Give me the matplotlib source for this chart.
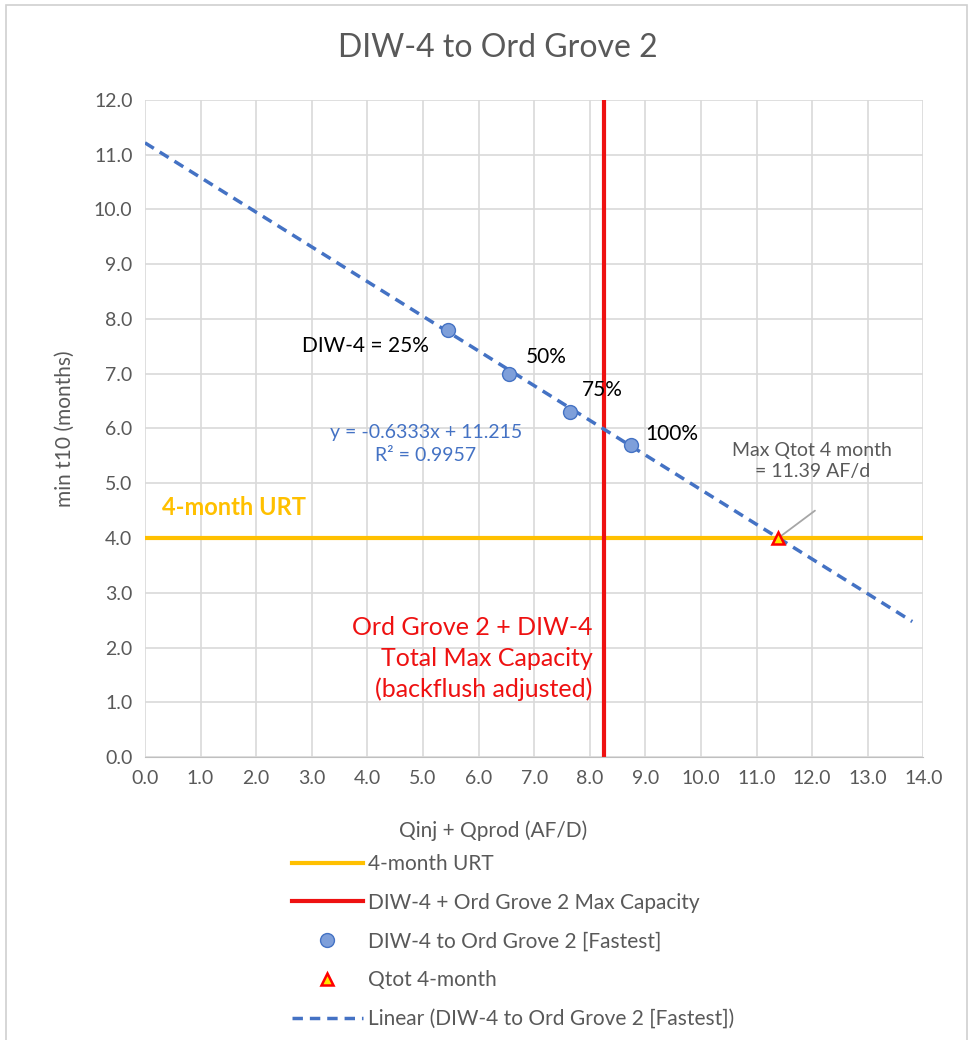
import matplotlib
matplotlib.use("Agg")
import matplotlib.pyplot as plt
from matplotlib.lines import Line2D
from matplotlib.patches import Rectangle
import numpy as np

plt.rcParams['font.family'] = ['Lato', 'DejaVu Sans']

# Data
q_total = [5.45, 6.55, 7.65, 8.75]        # Qinj + Qprod (AF/D)
t10_min = [7.8, 7.0, 6.3, 5.7]            # min t10 (months)
point_labels = ["DIW-4 = 25%", "50%", "75%", "100%"]
fit_slope = -0.6333
fit_intercept = 11.215
fit_r2 = 0.9957
fit_x_range = [0.0, 13.8]
urt_months = 4.0
max_capacity = 8.25
qtot_4month = 11.39

x_ticks = np.arange(0, 15, 1)
y_ticks = np.arange(0, 13, 1)

GRAY = "#595959"
BLUE = "#4472C4"
ORANGE = "#FFC000"
RED = "#EE1111"

fig = plt.figure(figsize=(9.73, 10.4), dpi=100)
fig.patches.append(Rectangle((0.006, -0.01), 0.988, 1.005, transform=fig.transFigure,
                             fill=False, edgecolor="#D0D0D0", linewidth=1.2))

ax = fig.add_axes([0.149, 0.272, 0.800, 0.632])
ax.set_xlim(0, 14)
ax.set_ylim(0, 12)
ax.set_xticks(x_ticks)
ax.set_yticks(y_ticks)
ax.set_xticklabels([f"{v:.1f}" for v in x_ticks])
ax.set_yticklabels([f"{v:.1f}" for v in y_ticks])
ax.grid(True, color="#D9D9D9", linewidth=1.2)
ax.set_axisbelow(True)
for s in ["top", "right", "left"]:
    ax.spines[s].set_visible(False)
ax.spines["bottom"].set_color("#BFBFBF")
ax.tick_params(length=0, colors=GRAY, labelsize=14, pad=9)

# Reference lines
ax.axhline(urt_months, color=ORANGE, linewidth=3, zorder=2)
ax.axvline(max_capacity, color=RED, linewidth=3, zorder=2)

# Linear trendline
fx = np.array(fit_x_range)
ax.plot(fx, fit_slope * fx + fit_intercept, linestyle=(0, (3, 2)), color=BLUE,
        linewidth=2.5, zorder=3)

# Scatter points
ax.plot(q_total, t10_min, "o", markersize=10, markerfacecolor="#7E9FDA",
        markeredgecolor=BLUE, markeredgewidth=1, zorder=4)

# 4-month point
ax.plot([qtot_4month], [urt_months], "^", markersize=9, markerfacecolor="#FFE600",
        markeredgecolor="#FF0000", markeredgewidth=1.8, zorder=5)

# Point labels
label_offsets = [(-0.35, -0.3, "right"), (0.3, 0.3, "left"), (0.2, 0.4, "left"), (0.25, 0.2, "left")]
for x, y, lab, (dx, dy, ha) in zip(q_total, t10_min, point_labels, label_offsets):
    ax.text(x + dx, y + dy, lab, ha=ha, va="center", fontsize=15, color="black")

# Trendline equation
ax.text(5.05, 5.72, f"y = {fit_slope}x + {fit_intercept}\nR² = {fit_r2}",
        ha="center", va="center", color=BLUE, fontsize=14, linespacing=1.4)

ax.text(0.3, 4.55, "4-month URT", color=ORANGE, fontsize=17, fontweight="bold",
        ha="left", va="center")

ax.text(8.05, 1.8, "Ord Grove 2 + DIW-4\nTotal Max Capacity\n(backflush adjusted)",
        color=RED, fontsize=18, ha="right", va="center", linespacing=1.4)

ax.text(12.0, 5.41, f"Max Qtot 4 month\n= {qtot_4month} AF/d", ha="center",
        va="center", fontsize=14, color=GRAY, linespacing=1.3)
ax.annotate("", xy=(qtot_4month, urt_months), xytext=(12.05, 4.5),
            arrowprops=dict(arrowstyle="-", color="#A6A6A6", linewidth=1.3,
                            shrinkA=0, shrinkB=0))

ax.set_xlabel("Qinj + Qprod (AF/D)", fontsize=15, color=GRAY)
ax.xaxis.set_label_coords(0.447, -0.097)
ax.set_ylabel("min t10 (months)", fontsize=15, color=GRAY, labelpad=14)
fig.text(0.512, 0.954, "DIW-4 to Ord Grove 2", ha="center", va="center",
         fontsize=23, color=GRAY)

# Legend
handles = [
    Line2D([], [], color=ORANGE, linewidth=3),
    Line2D([], [], color=RED, linewidth=3),
    Line2D([], [], linestyle="none", marker="o", markersize=10,
           markerfacecolor="#7E9FDA", markeredgecolor=BLUE),
    Line2D([], [], linestyle="none", marker="^", markersize=9,
           markerfacecolor="#FFE600", markeredgecolor="#FF0000", markeredgewidth=1.8),
    Line2D([], [], color=BLUE, linestyle=(0, (3, 2)), linewidth=2.5),
]
labels = ["4-month URT", "DIW-4 + Ord Grove 2 Max Capacity",
          "DIW-4 to Ord Grove 2 [Fastest]", "Qtot 4-month",
          "Linear (DIW-4 to Ord Grove 2 [Fastest])"]
leg = fig.legend(handles, labels, loc="upper left", bbox_to_anchor=(0.300, 0.179),
                 frameon=False, fontsize=15, handlelength=3.4, handletextpad=0.25,
                 labelspacing=0.9, labelcolor=GRAY, borderaxespad=0, borderpad=0)

fig.savefig("out.png", dpi=100)
